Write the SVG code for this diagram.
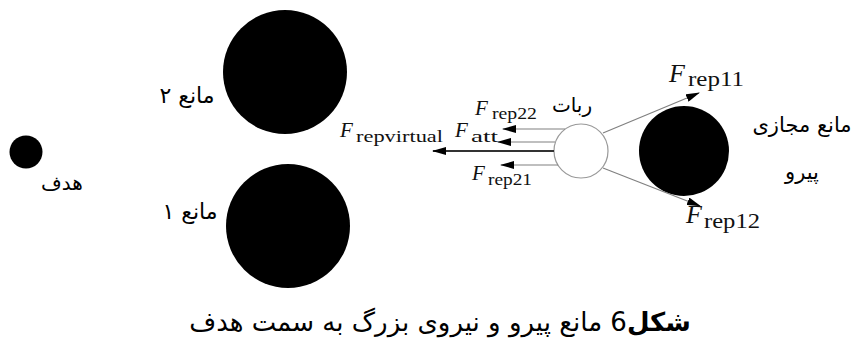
<svg xmlns="http://www.w3.org/2000/svg" width="855" height="340" viewBox="0 0 855 340">
<style>
.fa{font-family:"DejaVu Sans",sans-serif;fill:#000;}
.F{font-family:"Liberation Serif",serif;font-style:italic;fill:#111;}
.sub{font-family:"Liberation Serif",serif;fill:#111;}
.blk{fill:#000;}
.ln{stroke:#808080;stroke-width:1.2;fill:none;}
.lnv{stroke:#333;stroke-width:2;fill:none;}
</style>
<defs>
<marker id="ah" markerWidth="14" markerHeight="8" refX="13" refY="4" orient="auto" markerUnits="userSpaceOnUse">
<path d="M0,0 L14,4 L0,8 z" fill="#000"/>
</marker>
</defs>
<rect width="855" height="340" fill="#fff"/>
<g id="goal">
<circle class="blk" cx="26" cy="152" r="16.5"/>
<text class="fa" x="62" y="190" font-size="20" text-anchor="middle" direction="rtl">هدف</text>
</g>
<g id="obstacle2">
<circle class="blk" cx="285" cy="72" r="62"/>
<text class="fa" x="187" y="103" font-size="22" text-anchor="middle" direction="rtl">مانع ۲</text>
</g>
<g id="obstacle1">
<circle class="blk" cx="288" cy="226" r="62"/>
<text class="fa" x="190" y="219" font-size="22" text-anchor="middle" direction="rtl">مانع ۱</text>
</g>
<g id="robot">
<circle cx="581" cy="151" r="27" fill="#fff" stroke="#999" stroke-width="1.2"/>
<text class="fa" x="572" y="112" font-size="20" text-anchor="middle" direction="rtl">ربات</text>
</g>
<g id="virtual-obstacle">
<circle class="blk" cx="684" cy="151" r="45"/>
<text class="fa" x="802" y="132" font-size="21" text-anchor="middle" direction="rtl">مانع مجازی</text>
<text class="fa" x="802" y="179" font-size="21" text-anchor="middle" direction="rtl">پیرو</text>
</g>
<g id="connectors">
<line class="ln" x1="565" y1="129" x2="503" y2="129" marker-end="url(#ah)"/>
<line class="ln" x1="555" y1="142" x2="498" y2="142" marker-end="url(#ah)"/>
<line class="lnv" x1="554" y1="151" x2="433" y2="151" marker-end="url(#ah)"/>
<line class="ln" x1="558" y1="165" x2="501" y2="165" marker-end="url(#ah)"/>
<line class="ln" x1="603" y1="133" x2="699" y2="93" marker-end="url(#ah)"/>
<line class="ln" x1="603" y1="168" x2="700" y2="206" marker-end="url(#ah)"/>
</g>
<g id="labels">
<text class="F" x="475" y="115" font-size="21">F</text>
<text class="sub" x="492" y="119" font-size="17" textLength="45" lengthAdjust="spacingAndGlyphs">rep22</text>
<text class="F" x="340" y="137" font-size="21">F</text>
<text class="sub" x="356" y="142" font-size="17" textLength="87" lengthAdjust="spacingAndGlyphs">repvirtual</text>
<text class="F" x="455" y="137" font-size="21">F</text>
<text class="sub" x="471" y="142" font-size="17" textLength="27" lengthAdjust="spacingAndGlyphs">att</text>
<text class="F" x="472" y="180" font-size="21">F</text>
<text class="sub" x="488" y="185" font-size="17" textLength="44" lengthAdjust="spacingAndGlyphs">rep21</text>
<text class="F" x="669" y="82" font-size="26">F</text>
<text class="sub" x="688" y="86" font-size="21" textLength="56" lengthAdjust="spacingAndGlyphs">rep11</text>
<text class="F" x="686" y="223" font-size="26">F</text>
<text class="sub" x="704" y="228" font-size="21" textLength="56" lengthAdjust="spacingAndGlyphs">rep12</text>
</g>
<g id="caption">
<text class="fa" x="440" y="331" font-size="26" text-anchor="middle" direction="rtl"><tspan font-weight="bold">شکل</tspan>6 مانع پیرو و نیروی بزرگ به سمت هدف</text>
</g>
</svg>
